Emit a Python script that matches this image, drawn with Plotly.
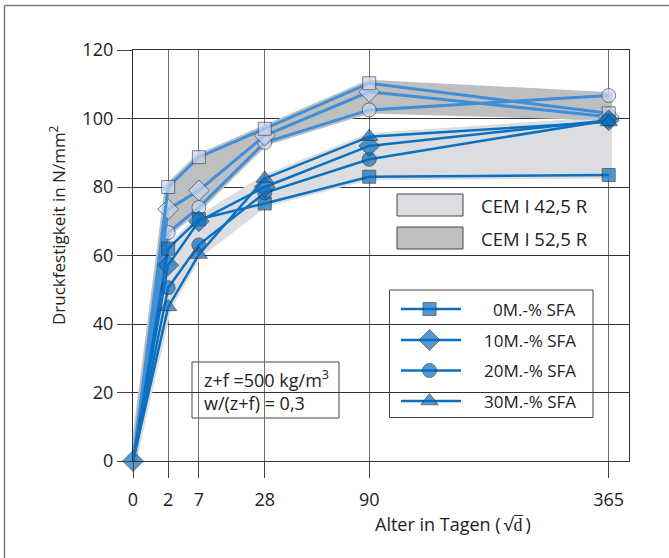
import numpy as np
import plotly.graph_objects as go

# ---------------- data ----------------
days = [0, 2, 7, 28, 90, 365]
tick_labels = ["0", "2", "7", "28", "90", "365"]

# CEM I 52,5 R (light markers)
cem52_sfa0 = [0, 80.0, 88.7, 97.0, 110.3, 101.5]
cem52_sfa10 = [0, 73.5, 79.0, 95.0, 107.8, 100.5]
cem52_sfa20 = [0, 66.7, 74.0, 93.0, 102.5, 106.7]

# CEM I 42,5 R (dark markers)
cem42_sfa0 = [0, 62.0, 70.6, 75.2, 83.0, 83.5]
cem42_sfa10 = [0, 57.2, 70.0, 80.0, 92.0, 99.5]
cem42_sfa20 = [0, 50.6, 63.1, 78.3, 88.1, 99.5]
cem42_sfa30 = [0, 45.0, 60.3, 82.5, 94.7, 99.0]

series_labels = ["0M.-% SFA", "10M.-% SFA", "20M.-% SFA", "30M.-% SFA"]
band_labels = ["CEM I 42,5 R", "CEM I 52,5 R"]
note_text = "z+f =500 kg/m<sup>3</sup><br>w/(z+f) = 0,3"
y_title = "Druckfestigkeit in N/mm<sup>2</sup>"
x_title = "Alter in Tagen (\u2009\u221ad\u0305\u2009)"

# ---------------- layout helpers ----------------
W, H = 669, 558
L, R, T, B = 133, 40, 50, 97
PW, PH = W - L - R, H - T - B


def px(xp):
    return (xp - L) / PW


def py(yp):
    return (H - B - yp) / PH


FONT = "Open Sans"
TXT = "#222222"
DARK = "#0a6fc0"
DARK_LINE = "#0a70c2"
LIGHT_FILL = "#c8d6ef"
LIGHT_LINE = "#3f8fd8"
BAND42 = "#dcdde0"
BAND52 = "#bebfc1"

x = np.sqrt(np.array(days, dtype=float))

fig = go.Figure()


def band(series, color):
    arr = np.array(series)
    lo, hi = arr.min(axis=0), arr.max(axis=0)
    fig.add_trace(go.Scatter(
        x=list(x) + list(x[::-1]), y=list(hi) + list(lo[::-1]),
        fill="toself", fillcolor=color, mode="lines",
        line=dict(color=color, width=7), hoverinfo="skip", showlegend=False))


band([cem42_sfa0, cem42_sfa10, cem42_sfa20, cem42_sfa30], BAND42)
band([cem52_sfa0, cem52_sfa10, cem52_sfa20], BAND52)

sym = {"sq": "square", "di": "diamond", "ci": "circle", "tr": "triangle-up"}
msize = {"sq": 13, "di": 16, "ci": 14, "tr": 15}


def series(vals, s, fill, lcolor, lwidth, outline, show_zero=False):
    sizes = [msize[s] if (d != 0 or show_zero) else 0 for d in days]
    fig.add_trace(go.Scatter(
        x=x, y=vals, mode="lines+markers",
        line=dict(color=lcolor, width=lwidth),
        marker=dict(symbol=sym[s], size=sizes, color=fill,
                    line=dict(color=outline, width=1)),
        cliponaxis=False, showlegend=False, hoverinfo="skip"))


series(cem52_sfa20, "ci", LIGHT_FILL, LIGHT_LINE, 3, "#4a4a55")
series(cem52_sfa10, "di", LIGHT_FILL, LIGHT_LINE, 3, "#4a4a55")
series(cem52_sfa0, "sq", LIGHT_FILL, LIGHT_LINE, 3, "#4a4a55")
series(cem42_sfa0, "sq", DARK, DARK_LINE, 2.5, "#333333")
series(cem42_sfa20, "ci", DARK, DARK_LINE, 2.5, "#333333")
series(cem42_sfa10, "di", DARK, DARK_LINE, 2.5, "#333333", show_zero=True)
series(cem42_sfa30, "tr", DARK, DARK_LINE, 2.5, "#333333")

# ---------------- decorations ----------------
shapes = []
annotations = []

# outer frame (left + top)
shapes.append(dict(type="line", xref="paper", yref="paper", x0=px(4.5), x1=px(4.5),
                   y0=py(5.5), y1=py(560), line=dict(color="#7a7a7a", width=1.5)))
shapes.append(dict(type="line", xref="paper", yref="paper", x0=px(4.5), x1=px(670),
                   y0=py(5.5), y1=py(5.5), line=dict(color="#7a7a7a", width=1.5)))

# band legend
for i, (lab, col) in enumerate(zip(band_labels, [BAND42, BAND52])):
    y0p = 194 + i * 33
    shapes.append(dict(type="rect", xref="paper", yref="paper", layer="between",
                       x0=px(397), x1=px(463), y0=py(y0p), y1=py(y0p + 22),
                       fillcolor=col, line=dict(color="#444444", width=1)))
    annotations.append(dict(xref="paper", yref="paper", x=px(479), y=py(y0p + 11),
                            text=lab, showarrow=False, xanchor="left", yanchor="middle",
                            font=dict(family=FONT, size=18.5, color=TXT)))

# series legend box
shapes.append(dict(type="rect", xref="paper", yref="paper", layer="between",
                   x0=px(389.5), x1=px(593), y0=py(290), y1=py(417.5),
                   fillcolor="white", line=dict(color="#444444", width=1)))
rows = [309, 340, 370.5, 401]
leg_sym = ["sq", "di", "ci", "tr"]
for lab, yr in zip(series_labels, rows):
    shapes.append(dict(type="line", xref="paper", yref="paper", layer="between",
                       x0=px(401), x1=px(461), y0=py(yr), y1=py(yr),
                       line=dict(color=DARK_LINE, width=2.5)))
    annotations.append(dict(xref="paper", yref="paper", x=px(578), y=py(yr),
                            text=lab, showarrow=False, xanchor="right", yanchor="middle",
                            font=dict(family=FONT, size=17, color=TXT)))
fig.add_trace(go.Scatter(
    x=[px(429.5)] * 4, y=[py(r) for r in rows], xaxis="x2", yaxis="y2",
    mode="markers",
    marker=dict(symbol=[sym[s] for s in leg_sym], size=[msize[s] for s in leg_sym],
                color=DARK, line=dict(color="#333333", width=1)),
    showlegend=False, hoverinfo="skip", cliponaxis=False))

# note box
shapes.append(dict(type="rect", xref="paper", yref="paper", layer="between",
                   x0=px(192), x1=px(339), y0=py(362), y1=py(418),
                   fillcolor="white", line=dict(color="#444444", width=1)))
annotations.append(dict(xref="paper", yref="paper", x=px(202), y=py(390),
                        text=note_text, showarrow=False, xanchor="left", yanchor="middle",
                        align="left", font=dict(family=FONT, size=18, color=TXT)))

# axis titles
annotations.append(dict(xref="paper", yref="paper", x=px(57), y=py(225), text=y_title,
                        textangle=-90, showarrow=False, xanchor="center", yanchor="middle",
                        font=dict(family=FONT, size=17, color=TXT)))
annotations.append(dict(xref="paper", yref="paper", x=px(453), y=py(524), text=x_title,
                        showarrow=False, xanchor="center", yanchor="middle",
                        font=dict(family=FONT, size=18, color=TXT)))

fig.update_layout(
    width=W, height=H, autosize=False,
    margin=dict(l=L, r=R, t=T, b=B, pad=0),
    paper_bgcolor="white", plot_bgcolor="white",
    font=dict(family=FONT, size=17, color=TXT),
    showlegend=False,
    xaxis=dict(range=[0, 19.92], tickvals=x, ticktext=tick_labels,
               ticks="outside", ticklen=16, tickcolor="#444444", tickwidth=1.2,
               showgrid=True, gridcolor="#6f6f6f", gridwidth=1.2,
               zeroline=False, showline=True, linecolor="#333333", linewidth=1.3,
               mirror=True, ticklabelstandoff=6, automargin=False, fixedrange=True,
               tickfont=dict(family=FONT, size=18, color=TXT)),
    yaxis=dict(range=[0, 120], tickvals=[0, 20, 40, 60, 80, 100, 120],
               ticks="outside", ticklen=15, tickcolor="#444444", tickwidth=1.2,
               showgrid=True, gridcolor="#333333", gridwidth=1.2,
               zeroline=False, showline=True, linecolor="#333333", linewidth=1.3,
               mirror=True, automargin=False, fixedrange=True,
               tickfont=dict(family=FONT, size=18, color=TXT)),
    xaxis2=dict(overlaying="x", range=[0, 1], visible=False, fixedrange=True),
    yaxis2=dict(overlaying="y", range=[0, 1], visible=False, fixedrange=True),
    shapes=shapes, annotations=annotations,
)

fig.write_html(
    "out.html",
    config={"displayModeBar": False},
    post_script="document.body.style.margin='0';document.body.style.padding='0';",
)
